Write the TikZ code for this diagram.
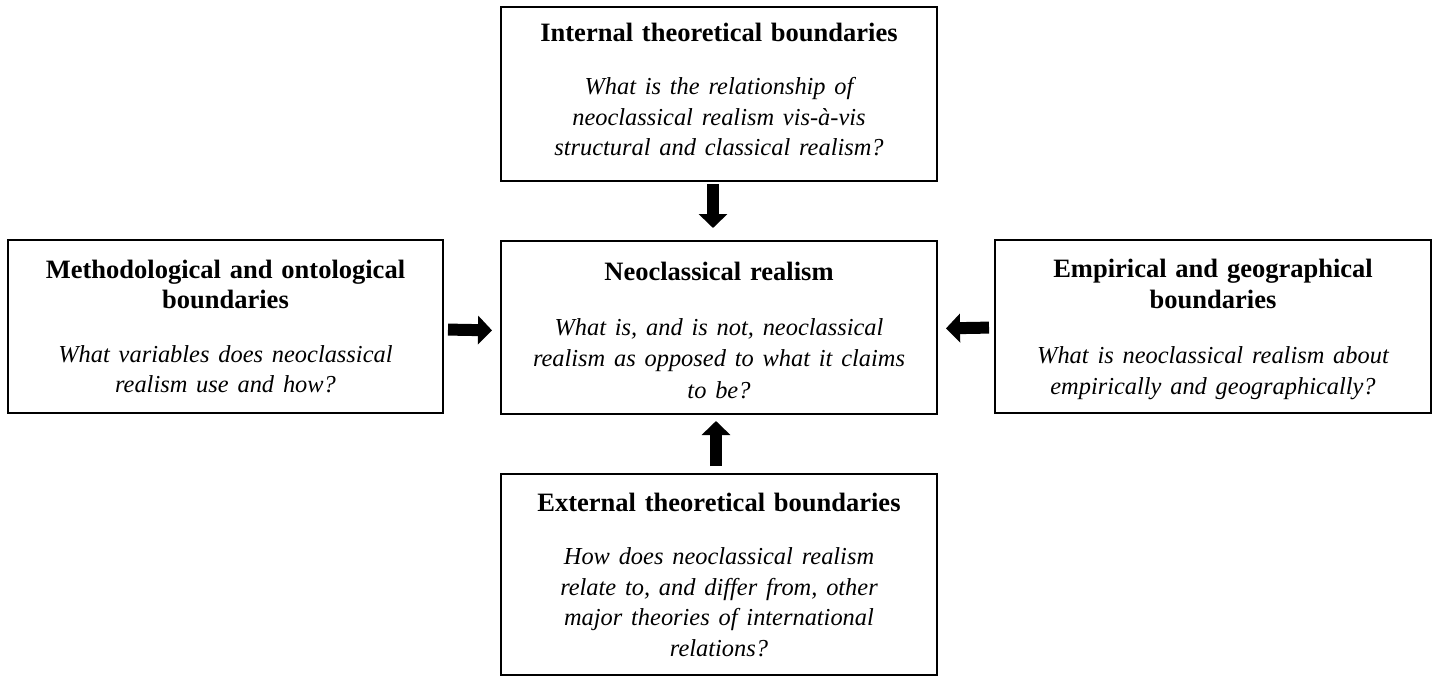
\documentclass[tikz,border=0pt]{standalone}
\usepackage{fontspec}
\setmainfont{Liberation Serif}
\usetikzlibrary{arrows.meta}
\newcommand\qline[1]{{\fontsize{24.4}{30.5}\selectfont\itshape #1}}
\begin{document}
\begin{tikzpicture}[x=1pt,y=-1pt,
  box/.style={draw=black, line width=2pt, fill=white, minimum width=436pt, align=center,
    text width=425pt, inner sep=0pt,
    font=\fontsize{26.5}{30.5}\selectfont},
  blockarrow/.style={line width=12pt, -{Triangle[width=28pt,length=14pt]}}
]
\useasboundingbox (0,0) rectangle (1435,678);
\fill[white] (0,0) rectangle (1435,678);
\node[box, minimum height=174pt] (top) at (719,94)
  {\textbf{Internal theoretical boundaries}\\[23pt]
   \qline{What is the relationship of}\\
   \qline{neoclassical realism vis-à-vis}\\
   \qline{structural and classical realism?}\rule[-9pt]{0pt}{9pt}};
\node[box, minimum height=173pt] (center) at (719,327.5)
  {\rule{0pt}{24pt}\textbf{Neoclassical realism}\\[24pt]
   \qline{What is, and is not, neoclassical}\\[1pt]
   \qline{realism as opposed to what it claims}\\[1pt]
   \qline{to be?}};
\node[box, minimum height=173pt, minimum width=435pt] (left) at (225.5,326.5)
  {\textbf{Methodological and ontological}\\
   \textbf{boundaries}\\[23pt]
   \qline{What variables does neoclassical}\\
   \qline{realism use and how?}};
\node[box, minimum height=173pt] (right) at (1213,326.5)
  {\rule{0pt}{24pt}\textbf{Empirical and geographical}\\
   \textbf{boundaries}\\[25pt]
   \qline{What is neoclassical realism about}\\
   \qline{empirically and geographically?}};
\node[box, minimum height=201pt] (bottom) at (719,574.5)
  {\textbf{External theoretical boundaries}\\[23pt]
   \qline{How does neoclassical realism}\\
   \qline{relate to, and differ from, other}\\
   \qline{major theories of international}\\
   \qline{relations?}};
\draw[blockarrow, shorten <=2pt, shorten >=12pt] ([xshift=-6pt]top.south) -- ([xshift=-6pt]center.north);
\draw[blockarrow, shorten <=7pt, shorten >=6pt] ([xshift=-3pt]bottom.north) -- ([xshift=-3pt]center.south);
\draw[blockarrow, shorten <=4pt, shorten >=8pt] ([yshift=-3pt]left.east) -- ([yshift=-3pt]center.west);
\draw[blockarrow, shorten <=5pt, shorten >=8pt] ([yshift=-1pt]right.west) -- ([yshift=-1pt]center.east);
\end{tikzpicture}
\end{document}
